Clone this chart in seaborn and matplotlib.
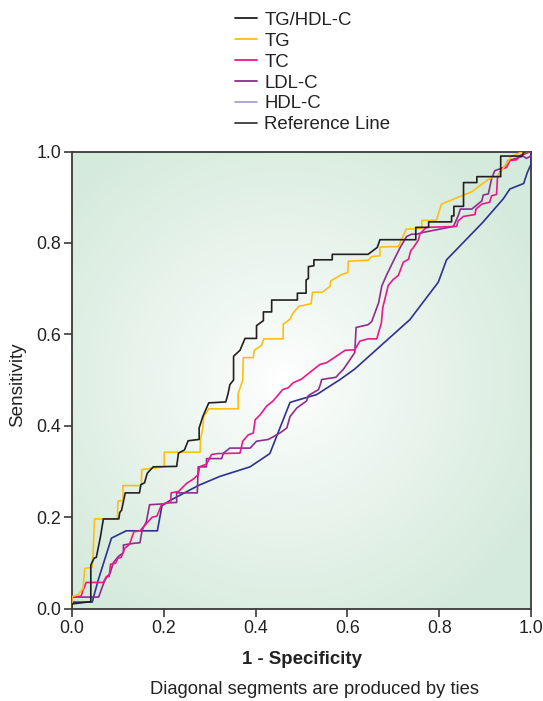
import numpy as np
import pandas as pd
import matplotlib
matplotlib.use("Agg")
import matplotlib.pyplot as plt
from matplotlib.lines import Line2D
import seaborn as sns

# ---------------- data ----------------
tghdl_x = [0, 0, 0.041, 0.041, 0.048, 0.053, 0.062, 0.068, 0.068, 0.102, 0.104, 0.108, 0.116, 0.147, 0.150, 0.158, 0.164,
           0.177, 0.228, 0.232, 0.245, 0.253, 0.277, 0.277, 0.285, 0.298, 0.335, 0.340, 0.344, 0.352, 0.352, 0.366, 0.377,
           0.402, 0.402, 0.417, 0.417, 0.435, 0.435, 0.491, 0.491, 0.510, 0.510, 0.515, 0.515, 0.527, 0.527, 0.567, 0.567,
           0.645, 0.665, 0.671, 0.749, 0.749, 0.777, 0.777, 0.827, 0.827, 0.832, 0.832, 0.853, 0.853, 0.882, 0.882, 0.934,
           0.934, 0.980, 0.985, 1.0]
tghdl_y = [0, 0.010, 0.015, 0.095, 0.110, 0.112, 0.157, 0.194, 0.196, 0.196, 0.210, 0.215, 0.253, 0.253, 0.271, 0.275, 0.296,
           0.310, 0.311, 0.340, 0.347, 0.367, 0.370, 0.395, 0.420, 0.450, 0.452, 0.470, 0.490, 0.500, 0.552, 0.565, 0.591,
           0.591, 0.619, 0.630, 0.649, 0.649, 0.675, 0.675, 0.690, 0.690, 0.719, 0.722, 0.748, 0.750, 0.763, 0.763, 0.775,
           0.775, 0.790, 0.807, 0.807, 0.834, 0.834, 0.846, 0.846, 0.859, 0.859, 0.880, 0.880, 0.932, 0.932, 0.945, 0.945,
           0.990, 0.990, 1.0, 1.0]

tg_x = [0, 0, 0.013, 0.024, 0.028, 0.044, 0.046, 0.049, 0.099, 0.100, 0.111, 0.111, 0.151, 0.152, 0.201, 0.201, 0.279, 0.280,
        0.285, 0.287, 0.298, 0.362, 0.362, 0.372, 0.373, 0.395, 0.397, 0.413, 0.418, 0.460, 0.460, 0.475, 0.482, 0.495, 0.503,
        0.521, 0.524, 0.545, 0.562, 0.564, 0.588, 0.601, 0.602, 0.645, 0.653, 0.671, 0.671, 0.711, 0.728, 0.762, 0.762, 0.794,
        0.805, 0.849, 0.871, 0.910, 0.929, 0.958, 0.983, 1.0]
tg_y = [0, 0.026, 0.030, 0.044, 0.088, 0.090, 0.120, 0.196, 0.196, 0.235, 0.237, 0.269, 0.269, 0.304, 0.310, 0.342, 0.342, 0.370,
        0.395, 0.420, 0.437, 0.437, 0.470, 0.500, 0.549, 0.549, 0.565, 0.576, 0.590, 0.590, 0.622, 0.633, 0.647, 0.662, 0.663,
        0.667, 0.692, 0.692, 0.705, 0.717, 0.731, 0.735, 0.760, 0.762, 0.770, 0.772, 0.791, 0.792, 0.830, 0.832, 0.849, 0.850,
        0.885, 0.903, 0.912, 0.941, 0.948, 0.990, 1.0, 1.0]

tc_x = [0, 0, 0.020, 0.024, 0.031, 0.068, 0.075, 0.081, 0.084, 0.095, 0.100, 0.107, 0.115, 0.125, 0.135, 0.148, 0.164, 0.175,
        0.185, 0.195, 0.215, 0.216, 0.232, 0.250, 0.264, 0.275, 0.278, 0.293, 0.304, 0.318, 0.366, 0.372, 0.384, 0.395, 0.399,
        0.410, 0.424, 0.438, 0.459, 0.471, 0.482, 0.500, 0.540, 0.555, 0.595, 0.616, 0.627, 0.645, 0.664, 0.674, 0.677, 0.689,
        0.700, 0.711, 0.722, 0.733, 0.738, 0.744, 0.755, 0.758, 0.772, 0.838, 0.841, 0.853, 0.878, 0.880, 0.893, 0.910, 0.914,
        0.925, 0.927, 0.936, 0.947, 0.954, 0.969, 0.976, 0.987, 1.0]
tc_y = [0, 0.025, 0.027, 0.040, 0.057, 0.057, 0.070, 0.070, 0.097, 0.099, 0.110, 0.112, 0.132, 0.140, 0.168, 0.170, 0.188, 0.200,
        0.202, 0.227, 0.234, 0.253, 0.256, 0.274, 0.283, 0.293, 0.310, 0.316, 0.337, 0.339, 0.340, 0.366, 0.380, 0.384, 0.413,
        0.424, 0.443, 0.454, 0.479, 0.483, 0.494, 0.502, 0.534, 0.538, 0.565, 0.566, 0.585, 0.590, 0.590, 0.625, 0.658, 0.707,
        0.720, 0.729, 0.758, 0.764, 0.783, 0.790, 0.807, 0.820, 0.834, 0.836, 0.848, 0.858, 0.862, 0.874, 0.885, 0.889, 0.903,
        0.906, 0.943, 0.962, 0.965, 0.980, 0.982, 0.991, 0.995, 1.0]

ldl_x = [0, 0, 0.058, 0.070, 0.075, 0.083, 0.090, 0.101, 0.112, 0.112, 0.130, 0.148, 0.153, 0.162, 0.169, 0.200, 0.206, 0.228,
         0.228, 0.273, 0.275, 0.293, 0.293, 0.326, 0.330, 0.344, 0.388, 0.402, 0.428, 0.453, 0.468, 0.475, 0.490, 0.511, 0.515,
         0.537, 0.541, 0.544, 0.575, 0.583, 0.591, 0.606, 0.616, 0.619, 0.645, 0.653, 0.668, 0.675, 0.686, 0.700, 0.715, 0.729,
         0.740, 0.751, 0.765, 0.831, 0.842, 0.846, 0.871, 0.893, 0.896, 0.907, 0.914, 0.921, 0.932, 0.943, 0.950, 0.968, 0.983,
         0.990, 1.0]
ldl_y = [0, 0.025, 0.025, 0.058, 0.068, 0.077, 0.100, 0.114, 0.122, 0.139, 0.142, 0.144, 0.172, 0.190, 0.227, 0.229, 0.231, 0.232,
         0.253, 0.253, 0.310, 0.310, 0.328, 0.328, 0.340, 0.351, 0.351, 0.366, 0.370, 0.384, 0.395, 0.420, 0.439, 0.454, 0.466,
         0.479, 0.490, 0.501, 0.506, 0.515, 0.523, 0.545, 0.560, 0.615, 0.621, 0.628, 0.669, 0.706, 0.731, 0.760, 0.790, 0.814,
         0.819, 0.819, 0.823, 0.836, 0.861, 0.874, 0.874, 0.892, 0.905, 0.907, 0.940, 0.958, 0.962, 0.966, 0.980, 0.985, 0.990,
         0.985, 0.990]

hdl_x = [0, 0, 0.044, 0.057, 0.086, 0.118, 0.186, 0.196, 0.213, 0.275, 0.322, 0.388, 0.431, 0.475, 0.495, 0.533, 0.584, 0.616,
         0.736, 0.798, 0.816, 0.895, 0.940, 0.954, 0.984, 0.992, 1.0, 1.0]
hdl_y = [0, 0.014, 0.014, 0.062, 0.154, 0.170, 0.170, 0.225, 0.236, 0.269, 0.289, 0.310, 0.339, 0.451, 0.457, 0.468, 0.501, 0.524,
         0.632, 0.714, 0.763, 0.845, 0.897, 0.918, 0.930, 0.954, 0.972, 1.0]

series_names = ["TG/HDL-C", "TG", "TC", "LDL-C", "HDL-C"]
series_x = [tghdl_x, tg_x, tc_x, ldl_x, hdl_x]
series_y = [tghdl_y, tg_y, tc_y, ldl_y, hdl_y]
line_colors = ["#231F20", "#FDC010", "#EC178C", "#8E2C90", "#2E3192"]
legend_colors = ["#231F20", "#FDC010", "#EC178C", "#8E2C90", "#A8A2D2", "#3A3A3A"]
legend_labels = ["TG/HDL-C", "TG", "TC", "LDL-C", "HDL-C", "Reference Line"]
ticks = [0.0, 0.2, 0.4, 0.6, 0.8, 1.0]
tick_labels = ["0.0", "0.2", "0.4", "0.6", "0.8", "1.0"]

frames = []
for name, xs, ys in zip(series_names, series_x, series_y):
    frames.append(pd.DataFrame({"fpr": xs, "tpr": ys, "marker": name, "order": np.arange(len(xs))}))
df = pd.concat(frames, ignore_index=True)

# ---------------- style ----------------
sns.set_theme(style="white")
plt.rcParams["font.family"] = ["Liberation Sans", "DejaVu Sans"]

fig = plt.figure(figsize=(5.43, 7.01), dpi=100)
ax = fig.add_axes([72 / 543, (701 - 608.5) / 701, 459 / 543, 457 / 701])

# radial gradient background
gx, gy = np.meshgrid(np.linspace(0, 1, 300), np.linspace(0, 1, 300))
d = np.sqrt(((gx - 0.46) / 1.0) ** 2 + ((gy - 0.5) / 1.0) ** 2)
t = np.clip(d / 0.62, 0, 1) ** 0.9
white = np.array([1.0, 1.0, 1.0])
green = np.array([0.835, 0.918, 0.863])
img = white[None, None, :] * (1 - t[..., None]) + green[None, None, :] * t[..., None]
ax.imshow(img, extent=[0, 1, 0, 1], origin="lower", aspect="auto", zorder=0, interpolation="bilinear")

palette = dict(zip(series_names, line_colors))
for name in series_names[::-1]:
    sub = df[df["marker"] == name]
    sns.lineplot(data=sub, x="fpr", y="tpr", color=palette[name], sort=False, estimator=None,
                 linewidth=1.2, ax=ax, zorder=3)

ax.set_xlim(0, 1)
ax.set_ylim(0, 1)
ax.set_xticks(ticks)
ax.set_xticklabels(tick_labels)
ax.set_yticks(ticks)
ax.set_yticklabels(tick_labels)
for s in ax.spines.values():
    s.set_color("#3a3a3a")
    s.set_linewidth(1.3)
    s.set_visible(True)
ax.tick_params(axis="both", which="major", direction="out", length=6, width=1.2, color="#3a3a3a",
               labelsize=12.8, labelcolor="#222222", pad=2, bottom=True, left=True)

ax.set_xlabel("1 - Specificity", fontsize=13.4, fontweight="bold", color="#222222")
ax.xaxis.label.set_va("center")
ax.xaxis.set_label_coords(0.5, -0.112)
ax.set_ylabel("Sensitivity", fontsize=13.6, color="#222222")
ax.yaxis.label.set_va("center")
ax.yaxis.set_label_coords(-0.118, 0.49)

fig.text(314 / 543, (701 - 690) / 701, "Diagonal segments are produced by ties", fontsize=13.2,
         color="#222222", ha="center", va="center")

handles = [Line2D([0], [0], color=c, linewidth=1.3) for c in legend_colors]
fig.legend(handles, legend_labels, loc="upper left", bbox_to_anchor=(231 / 543, 1 - 8 / 701),
           frameon=False, fontsize=13.4, handlelength=1.2, handletextpad=0.38, labelspacing=0.21,
           borderaxespad=0, borderpad=0.2, labelcolor="#222222")

fig.savefig("out.png", dpi=100)
